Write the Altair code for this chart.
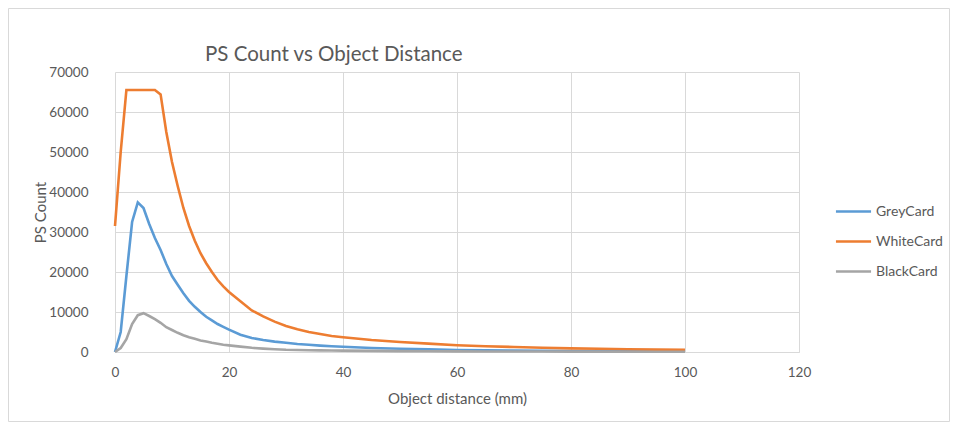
import altair as alt
import pandas as pd

distance = [0, 1, 2, 3, 4, 5, 6, 7, 8, 9, 10, 11, 12, 13, 14, 15, 16, 17, 18, 19, 20,
            22, 24, 26, 28, 30, 32, 34, 36, 38, 40,
            45, 50, 55, 60, 65, 70, 75, 80, 85, 90, 95, 100]

grey_card = [0, 5000, 19000, 32500, 37400, 36000, 32000, 28500, 25500, 22000, 19000,
             16800, 14700, 12800, 11300, 10000, 8800, 7900, 7000, 6300, 5600,
             4300, 3500, 3000, 2600, 2300, 2000, 1800, 1600, 1450, 1300,
             1000, 800, 650, 500, 420, 350, 300, 260, 230, 200, 180, 160]

white_card = [31500, 50000, 65500, 65500, 65500, 65500, 65500, 65500, 64400, 55000, 47500,
              41500, 36000, 31500, 27800, 24700, 22200, 20000, 18000, 16400, 15000,
              12700, 10400, 8900, 7600, 6500, 5700, 5000, 4500, 4000, 3700,
              3000, 2500, 2100, 1700, 1450, 1250, 1050, 900, 800, 700, 600, 550]

black_card = [0, 1000, 3200, 7000, 9200, 9700, 9000, 8200, 7300, 6200, 5500,
              4800, 4200, 3700, 3300, 2900, 2600, 2300, 2050, 1800, 1650,
              1350, 1050, 850, 700, 550, 500, 450, 400, 370, 340,
              280, 230, 190, 160, 140, 120, 110, 100, 90, 80, 75, 70]

series_names = ["GreyCard", "WhiteCard", "BlackCard"]
series_colors = ["#5B9BD5", "#ED7D31", "#A5A5A5"]
x_ticks = [0, 20, 40, 60, 80, 100, 120]
y_ticks = [0, 10000, 20000, 30000, 40000, 50000, 60000, 70000]

rows = []
for name, vals in zip(series_names, [grey_card, white_card, black_card]):
    for d, v in zip(distance, vals):
        rows.append({"distance": d, "count": v, "series": name})
df = pd.DataFrame(rows)

TEXT = "#595959"
GRID = "#d9d9d9"
FONT = "Lato"

lines = alt.Chart(df).mark_line(strokeWidth=2.6).encode(
    x=alt.X("distance:Q",
            scale=alt.Scale(domain=[0, 120], nice=False),
            axis=alt.Axis(values=x_ticks, ticks=False, labelPadding=13,
                          labelFlush=False,
                          domainColor=GRID, labelFontSize=13.5, labelColor=TEXT,
                          title="Object distance (mm)", titleFontSize=15,
                          titleColor=TEXT, titleFontWeight="normal",
                          titleY=46, titleBaseline="middle")),
    y=alt.Y("count:Q",
            scale=alt.Scale(domain=[0, 70000], nice=False),
            axis=alt.Axis(values=y_ticks, format="d", ticks=False, domain=False,
                          labelPadding=27, labelFontSize=13.5, labelColor=TEXT,
                          title="PS Count", titleFontSize=15, titleColor=TEXT,
                          titleFontWeight="normal", titleX=-75, titleY=140,
                          titleAlign="center", titleBaseline="middle")),
    color=alt.Color("series:N",
                    scale=alt.Scale(domain=series_names, range=series_colors),
                    legend=alt.Legend(title=None, orient="none", legendX=722,
                                      legendY=123,
                                      symbolType="M-1.17,0H1.17",
                                      symbolSize=900, symbolStrokeWidth=2.6,
                                      labelFontSize=14, labelColor=TEXT,
                                      labelOffset=6, rowPadding=6)),
)

border = alt.Chart(pd.DataFrame({"a": [0]})).mark_rect(
    fill="transparent", stroke=GRID, strokeWidth=1
).encode(
    x=alt.value(-106.5), x2=alt.value(834.5),
    y=alt.value(-63.5), y2=alt.value(349.5)
)

chart = alt.layer(border, lines).properties(
    width=684, height=280,
    autosize=alt.AutoSizeParams(type="none"),
    padding={"left": 107, "top": 64, "right": 151, "bottom": 70},
    title=alt.TitleParams("PS Count vs Object Distance", anchor="start",
                          frame="group", dx=90, dy=83, offset=10,
                          baseline="alphabetic", fontSize=20.5,
                          fontWeight="normal", color=TEXT, font=FONT),
).configure(
    font=FONT,
    background="white",
).configure_axis(
    gridColor=GRID, gridWidth=1, labelFont=FONT, titleFont=FONT,
).configure_legend(
    labelFont=FONT,
).configure_view(
    stroke="transparent",
)

chart.save("out.html", embed_options={"renderer": "svg", "actions": False})
